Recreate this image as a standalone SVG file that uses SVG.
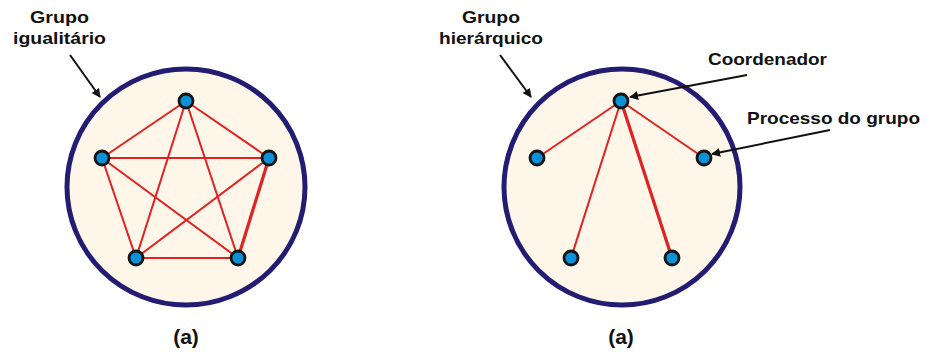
<svg xmlns="http://www.w3.org/2000/svg" width="945" height="354" viewBox="0 0 945 354">
<style>
.grp{fill:#fdf6e9;stroke:#221c72;stroke-width:5}
.e{stroke:#e02222;stroke-width:2;fill:none}
.ek{stroke:#e02222;stroke-width:3.2;fill:none}
.n{fill:#0a92d8;stroke:#141414;stroke-width:2.8}
.t{font-family:"Liberation Sans",Arial,sans-serif;font-weight:bold;font-size:17px;fill:#111}
.cap{font-size:21px}
.a{stroke:#111;stroke-width:2;fill:none;marker-end:url(#ah)}
</style>
<defs>
<marker id="ah" viewBox="0 0 10 10" refX="9" refY="5" markerWidth="4.5" markerHeight="4.5" orient="auto">
<path d="M0,0 L10,5 L0,10 z" fill="#111"/>
</marker>
</defs>
<g id="grupo-igualitario">
<ellipse class="grp" cx="186" cy="187" rx="119" ry="118"/>
</g>
<g id="grupo-hierarquico">
<ellipse class="grp" cx="622" cy="187" rx="118" ry="118"/>
</g>
<g id="connectors">
<line class="e" x1="186" y1="101" x2="102" y2="158"/>
<line class="e" x1="186" y1="101" x2="269" y2="158"/>
<line class="e" x1="186" y1="101" x2="136" y2="258"/>
<line class="e" x1="186" y1="101" x2="238" y2="258"/>
<line class="e" x1="102" y1="158" x2="269" y2="158"/>
<line class="e" x1="102" y1="158" x2="136" y2="258"/>
<line class="e" x1="102" y1="158" x2="238" y2="258"/>
<line class="e" x1="269" y1="158" x2="136" y2="258"/>
<line class="ek" x1="269" y1="158" x2="238" y2="258"/>
<line class="e" x1="136" y1="258" x2="238" y2="258"/>
<line class="e" x1="621" y1="101" x2="537" y2="158"/>
<line class="e" x1="621" y1="101" x2="704" y2="158"/>
<line class="e" x1="621" y1="101" x2="571" y2="258"/>
<line class="ek" x1="621" y1="101" x2="672" y2="258"/>
<line class="a" x1="70" y1="55" x2="100" y2="97"/>
<line class="a" x1="500" y1="55" x2="531" y2="97"/>
<line class="a" x1="747" y1="75" x2="630" y2="97"/>
<line class="a" x1="830" y1="130" x2="712" y2="154"/>
</g>
<g id="n1"><circle class="n" cx="186" cy="101" r="7"/></g>
<g id="n2"><circle class="n" cx="102" cy="158" r="7"/></g>
<g id="n3"><circle class="n" cx="269" cy="158" r="7"/></g>
<g id="n4"><circle class="n" cx="136" cy="258" r="7"/></g>
<g id="n5"><circle class="n" cx="238" cy="258" r="7"/></g>
<g id="h1"><circle class="n" cx="621" cy="101" r="7"/></g>
<g id="h2"><circle class="n" cx="537" cy="158" r="7"/></g>
<g id="h3"><circle class="n" cx="704" cy="158" r="7"/></g>
<g id="h4"><circle class="n" cx="571" cy="258" r="7"/></g>
<g id="h5"><circle class="n" cx="672" cy="258" r="7"/></g>
<g id="labels">
<text class="t" x="30" y="23" textLength="59" lengthAdjust="spacingAndGlyphs">Grupo</text>
<text class="t" x="13" y="44" textLength="93" lengthAdjust="spacingAndGlyphs">igualitário</text>
<text class="t" x="462" y="23" textLength="58" lengthAdjust="spacingAndGlyphs">Grupo</text>
<text class="t" x="439" y="44" textLength="104" lengthAdjust="spacingAndGlyphs">hierárquico</text>
<text class="t" x="708" y="65" textLength="119" lengthAdjust="spacingAndGlyphs">Coordenador</text>
<text class="t" x="747" y="124" textLength="173" lengthAdjust="spacingAndGlyphs">Processo do grupo</text>
<text class="t cap" x="186" y="344" text-anchor="middle">(a)</text>
<text class="t cap" x="621" y="344" text-anchor="middle">(a)</text>
</g>
</svg>
